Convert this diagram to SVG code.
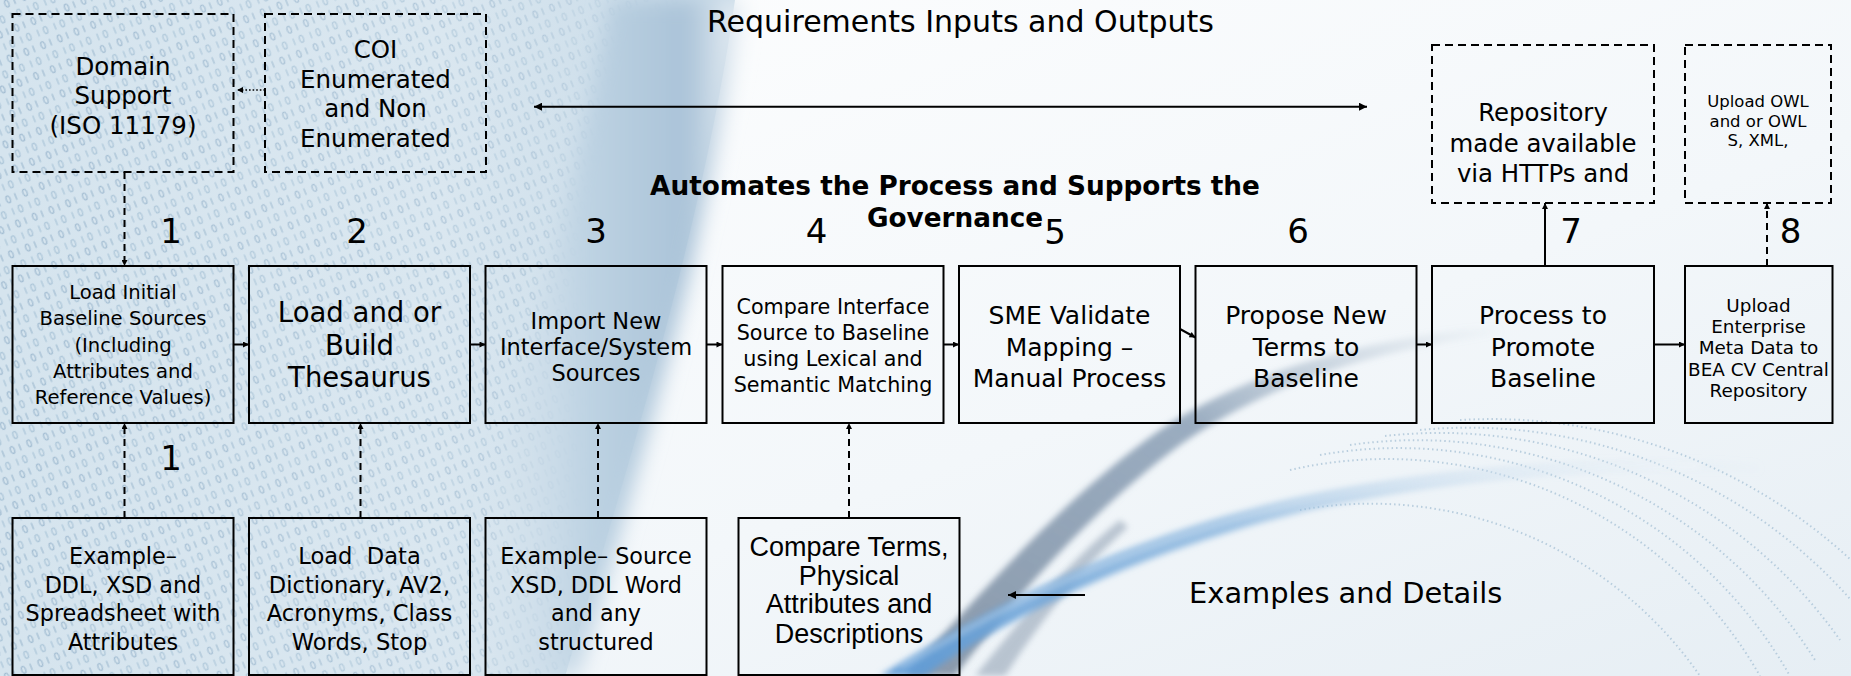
<svg xmlns="http://www.w3.org/2000/svg" width="1851" height="676" viewBox="0 0 1851 676">
  <defs>
    <style>
      .t { font-family: "DejaVu Sans", Verdana, sans-serif; fill: #000; text-anchor: middle; }
      .b { font-weight: bold; }
      .n { font-family: "Liberation Sans", Arial, sans-serif; fill: #000; text-anchor: middle; }
      .num { font-family: "DejaVu Sans", Verdana, sans-serif; font-size: 34px; fill: #000; text-anchor: middle; }
      .box { fill: none; stroke: #000; stroke-width: 2; }
      .dbox { fill: none; stroke: #000; stroke-width: 2; stroke-dasharray: 8 5; }
      .ln { fill: none; stroke: #000; stroke-width: 2; }
      .dash { fill: none; stroke: #000; stroke-width: 2; stroke-dasharray: 7 5; }
      .dot { fill: none; stroke: #000; stroke-width: 1.6; stroke-dasharray: 1.6 2; }
    </style>
    <marker id="arr" viewBox="0 0 10 10" refX="10" refY="5" markerUnits="userSpaceOnUse" markerWidth="9" markerHeight="8" orient="auto-start-reverse">
      <path d="M0,0 L10,5 L0,10 z" fill="#000"/>
    </marker>
    <marker id="arrS" viewBox="0 0 10 10" refX="10" refY="5" markerUnits="userSpaceOnUse" markerWidth="7" markerHeight="6" orient="auto">
      <path d="M0,0 L10,5 L0,10 z" fill="#000"/>
    </marker>

    <!-- background washes -->
    <linearGradient id="leftWash" x1="0" y1="0" x2="1" y2="0">
      <stop offset="0" stop-color="#d5e4ee"/>
      <stop offset="0.6" stop-color="#dae7f0"/>
      <stop offset="1" stop-color="#c6d9e7"/>
    </linearGradient>
    <linearGradient id="foldWash" x1="0" y1="0" x2="1" y2="0">
      <stop offset="0" stop-color="#e4edf3" stop-opacity="0"/>
      <stop offset="0.45" stop-color="#bed3e3"/>
      <stop offset="0.8" stop-color="#aac3d8"/>
      <stop offset="1" stop-color="#f2f6f9"/>
    </linearGradient>
    <linearGradient id="rightWash" x1="0" y1="0" x2="1" y2="1">
      <stop offset="0" stop-color="#ffffff"/>
      <stop offset="0.6" stop-color="#f3f7fa"/>
      <stop offset="1" stop-color="#e6eef4"/>
    </linearGradient>
    <linearGradient id="bitsFade" x1="0" y1="0" x2="1" y2="0">
      <stop offset="0" stop-color="#fff" stop-opacity="1"/>
      <stop offset="0.75" stop-color="#fff" stop-opacity="0.7"/>
      <stop offset="1" stop-color="#fff" stop-opacity="0"/>
    </linearGradient>
    <mask id="bitsMask">
      <rect x="0" y="0" width="700" height="676" fill="url(#bitsFade)"/>
    </mask>
    <clipPath id="leftClip">
      <path d="M0,0 H735 C705,210 640,430 565,676 H0 Z"/>
    </clipPath>
    <pattern id="bits" width="18" height="26" patternUnits="userSpaceOnUse" patternTransform="rotate(-22)">
      <ellipse cx="5" cy="6" rx="2" ry="3.6" fill="none" stroke="#9ab6cd" stroke-width="1.2"/>
      <line x1="13" y1="2.5" x2="13" y2="9.5" stroke="#9ab6cd" stroke-width="1.3"/>
      <line x1="5" y1="15.5" x2="5" y2="22.5" stroke="#a6c1d5" stroke-width="1.3"/>
      <ellipse cx="13" cy="19" rx="2" ry="3.6" fill="none" stroke="#a6c1d5" stroke-width="1.2"/>
    </pattern>
    <linearGradient id="swooshGrey" x1="0" y1="1" x2="1" y2="0">
      <stop offset="0" stop-color="#7f8fa2" stop-opacity="0.9"/>
      <stop offset="0.6" stop-color="#7d94ad" stop-opacity="0.75"/>
      <stop offset="1" stop-color="#9fb3c6" stop-opacity="0"/>
    </linearGradient>
    <linearGradient id="swooshBlue" x1="0" y1="1" x2="1" y2="0">
      <stop offset="0" stop-color="#5f9bd6" stop-opacity="0.95"/>
      <stop offset="0.55" stop-color="#86b3dd" stop-opacity="0.8"/>
      <stop offset="1" stop-color="#c6dbec" stop-opacity="0"/>
    </linearGradient>
    <filter id="soft" x="-10%" y="-10%" width="120%" height="120%">
      <feGaussianBlur stdDeviation="3"/>
    </filter>
    <filter id="softer" x="-10%" y="-10%" width="120%" height="120%">
      <feGaussianBlur stdDeviation="10"/>
    </filter>
  </defs>

  <!-- backdrop -->
  <g id="backdrop">
    <rect x="0" y="0" width="1851" height="676" fill="url(#rightWash)"/>
    <path d="M0,0 H735 C705,210 640,430 565,676 H0 Z" fill="url(#leftWash)"/>
    <rect x="0" y="0" width="700" height="676" fill="url(#bits)" clip-path="url(#leftClip)" mask="url(#bitsMask)" opacity="0.85"/>
    <path d="M610,0 H745 C712,215 648,440 578,676 H455 C505,440 570,210 610,0 Z" fill="url(#foldWash)" filter="url(#softer)"/>
    <!-- dotted disc arcs, lower right -->
    <g fill="none" stroke="#a8c2d6" stroke-width="2" stroke-dasharray="1.5 3" opacity="0.75">
      <path d="M1290,470 A430,430 0 0 1 1760,676"/>
      <path d="M1320,455 A450,450 0 0 1 1790,676"/>
      <path d="M1350,445 A470,470 0 0 1 1815,660"/>
      <path d="M1385,436 A490,490 0 0 1 1840,640"/>
      <path d="M1420,430 A510,510 0 0 1 1851,600"/>
      <path d="M1460,420 A530,530 0 0 1 1851,560"/>
      <path d="M1300,510 A400,400 0 0 1 1700,676"/>
    </g>
    <!-- swooshes -->
    <path d="M905,676 C975,600 1060,500 1160,430 C1250,370 1360,340 1500,325 L1502,334 C1370,350 1265,385 1180,445 C1085,515 1010,605 955,676 Z" fill="url(#swooshGrey)" filter="url(#soft)"/>
    <path d="M975,676 C1020,620 1070,560 1120,520 L1128,527 C1082,568 1040,622 1005,676 Z" fill="#8d9db0" opacity="0.55" filter="url(#soft)"/>
    <path d="M880,676 C990,605 1130,535 1300,497 C1450,466 1600,455 1760,462 L1760,472 C1600,466 1455,478 1310,510 C1150,548 1010,615 925,676 Z" fill="url(#swooshBlue)" filter="url(#soft)"/>
    <path d="M900,668 C1010,600 1140,540 1300,503 C1440,474 1580,464 1700,466" fill="none" stroke="#ffffff" stroke-width="2" opacity="0.7" filter="url(#soft)"/>
  </g>

  <!-- connectors -->
  <g id="connectors">
    <path class="dot" d="M265,90 H237" marker-end="url(#arrS)"/>
    <path class="ln" d="M534,106.7 H1367" marker-start="url(#arr)" marker-end="url(#arr)"/>
    <path class="dash" d="M124.5,172 V266" marker-end="url(#arrS)"/>
    <path class="dash" d="M124.5,518 V423" marker-end="url(#arrS)"/>
    <path class="dash" d="M360.5,518 V423" marker-end="url(#arrS)"/>
    <path class="dash" d="M598,518 V423" marker-end="url(#arrS)"/>
    <path class="dash" d="M849,518 V423" marker-end="url(#arrS)"/>
    <path class="ln" d="M233.5,344.5 H249" marker-end="url(#arrS)"/>
    <path class="ln" d="M470,344.5 H485.5" marker-end="url(#arrS)"/>
    <path class="ln" d="M706.5,344.5 H722.5" marker-end="url(#arrS)"/>
    <path class="ln" d="M943.5,344.5 H959" marker-end="url(#arrS)"/>
    <path class="ln" d="M1180,329 L1195.5,337.5" marker-end="url(#arrS)"/>
    <path class="ln" d="M1416.5,344.5 H1432" marker-end="url(#arrS)"/>
    <path class="ln" d="M1654,344.5 H1685" marker-end="url(#arrS)"/>
    <path class="ln" d="M1545,266 V203" marker-end="url(#arrS)"/>
    <path class="dash" d="M1767,266 V203" marker-end="url(#arrS)"/>
    <path class="ln" d="M1085,595 H1008" marker-end="url(#arr)"/>
  </g>

  <!-- free labels -->
  <g id="labels">
    <text class="t" x="960.5" y="32" font-size="30">Requirements Inputs and Outputs</text>
    <text class="t b" x="955" y="194.5" font-size="26.3">Automates the Process and Supports the</text>
    <text class="t b" x="955" y="226.5" font-size="26.3">Governance</text>
    <text class="t" x="1345.7" y="603" font-size="28.9">Examples and Details</text>
    <text class="num" x="171" y="242.5">1</text>
    <text class="num" x="357" y="242.5">2</text>
    <text class="num" x="596" y="242.5">3</text>
    <text class="num" x="816.5" y="242.5">4</text>
    <text class="num" x="1055" y="244">5</text>
    <text class="num" x="1298" y="242.5">6</text>
    <text class="num" x="1571" y="242.5">7</text>
    <text class="num" x="1790.5" y="242.5">8</text>
    <text class="num" x="171" y="470">1</text>
  </g>

  <!-- upper dashed boxes -->
  <g id="domain-support">
    <rect class="dbox" x="12.5" y="14" width="221" height="158"/>
    <text class="t" font-size="24.5"><tspan x="123" y="74.5">Domain</tspan><tspan x="123" y="104">Support</tspan><tspan x="123" y="134">(ISO 11179)</tspan></text>
  </g>
  <g id="coi">
    <rect class="dbox" x="265" y="14" width="221" height="158"/>
    <text class="t" font-size="24.5"><tspan x="375.5" y="58">COI</tspan><tspan x="375.5" y="87.5">Enumerated</tspan><tspan x="375.5" y="117">and Non</tspan><tspan x="375.5" y="146.5">Enumerated</tspan></text>
  </g>
  <g id="repository">
    <rect class="dbox" x="1432" y="45" width="222" height="158"/>
    <text class="t" font-size="24.4"><tspan x="1543" y="120.5">Repository</tspan><tspan x="1543" y="152">made available</tspan><tspan x="1543" y="182">via HTTPs and</tspan></text>
  </g>
  <g id="upload-owl">
    <rect class="dbox" x="1685" y="45" width="146" height="158"/>
    <text class="t" font-size="16.5"><tspan x="1758" y="107">Upload OWL</tspan><tspan x="1758" y="126.5">and or OWL</tspan><tspan x="1758" y="146">S, XML,</tspan></text>
  </g>

  <!-- process steps -->
  <g id="step1">
    <rect class="box" x="12.5" y="266" width="221" height="157"/>
    <text class="t" font-size="19.6"><tspan x="123" y="299">Load Initial</tspan><tspan x="123" y="325.3">Baseline Sources</tspan><tspan x="123" y="351.5">(Including</tspan><tspan x="123" y="377.7">Attributes and</tspan><tspan x="123" y="404">Reference Values)</tspan></text>
  </g>
  <g id="step2">
    <rect class="box" x="249" y="266" width="221" height="157"/>
    <text class="t" font-size="27.5"><tspan x="359.5" y="322">Load and or</tspan><tspan x="359.5" y="354.5">Build</tspan><tspan x="359.5" y="387">Thesaurus</tspan></text>
  </g>
  <g id="step3">
    <rect class="box" x="485.5" y="266" width="221" height="157"/>
    <text class="t" font-size="22.5"><tspan x="596" y="329">Import New</tspan><tspan x="596" y="355">Interface/System</tspan><tspan x="596" y="381">Sources</tspan></text>
  </g>
  <g id="step4">
    <rect class="box" x="722.5" y="266" width="221" height="157"/>
    <text class="t" font-size="20.7"><tspan x="833" y="314">Compare Interface</tspan><tspan x="833" y="340">Source to Baseline</tspan><tspan x="833" y="365.6">using Lexical and</tspan><tspan x="833" y="392">Semantic Matching</tspan></text>
  </g>
  <g id="step5">
    <rect class="box" x="959" y="266" width="221" height="157"/>
    <text class="t" font-size="25"><tspan x="1069.5" y="324">SME Validate</tspan><tspan x="1069.5" y="355.7">Mapping –</tspan><tspan x="1069.5" y="387.3">Manual Process</tspan></text>
  </g>
  <g id="step6">
    <rect class="box" x="1195.5" y="266" width="221" height="157"/>
    <text class="t" font-size="25"><tspan x="1306" y="324">Propose New</tspan><tspan x="1306" y="355.7">Terms to</tspan><tspan x="1306" y="387.3">Baseline</tspan></text>
  </g>
  <g id="step7">
    <rect class="box" x="1432" y="266" width="222" height="157"/>
    <text class="t" font-size="25"><tspan x="1543" y="324">Process to</tspan><tspan x="1543" y="355.7">Promote</tspan><tspan x="1543" y="387.3">Baseline</tspan></text>
  </g>
  <g id="step8">
    <rect class="box" x="1685" y="266" width="147.5" height="157"/>
    <text class="t" font-size="18.4"><tspan x="1758.5" y="311.6">Upload</tspan><tspan x="1758.5" y="333">Enterprise</tspan><tspan x="1758.5" y="354.3">Meta Data to</tspan><tspan x="1758.5" y="375.6">BEA CV Central</tspan><tspan x="1758.5" y="397">Repository</tspan></text>
  </g>

  <!-- detail boxes -->
  <g id="detail1">
    <rect class="box" x="12.5" y="518" width="221" height="157"/>
    <text class="t" font-size="22.3"><tspan x="123" y="564">Example–</tspan><tspan x="123" y="592.5">DDL, XSD and</tspan><tspan x="123" y="621">Spreadsheet with</tspan><tspan x="123" y="649.5">Attributes</tspan></text>
  </g>
  <g id="detail2">
    <rect class="box" x="249" y="518" width="221" height="157"/>
    <text class="t" font-size="22.6" xml:space="preserve"><tspan x="359.5" y="564">Load  Data</tspan><tspan x="359.5" y="592.5">Dictionary, AV2,</tspan><tspan x="359.5" y="621">Acronyms, Class</tspan><tspan x="359.5" y="649.5">Words, Stop</tspan></text>
  </g>
  <g id="detail3">
    <rect class="box" x="485.5" y="518" width="221" height="157"/>
    <text class="t" font-size="22.3"><tspan x="596" y="564">Example– Source</tspan><tspan x="596" y="592.5">XSD, DDL Word</tspan><tspan x="596" y="621">and any</tspan><tspan x="596" y="649.5">structured</tspan></text>
  </g>
  <g id="detail4">
    <rect class="box" x="738.5" y="518" width="221" height="157"/>
    <text class="n" font-size="27"><tspan x="849" y="556">Compare Terms,</tspan><tspan x="849" y="584.5">Physical</tspan><tspan x="849" y="613">Attributes and</tspan><tspan x="849" y="643">Descriptions</tspan></text>
  </g>
</svg>
